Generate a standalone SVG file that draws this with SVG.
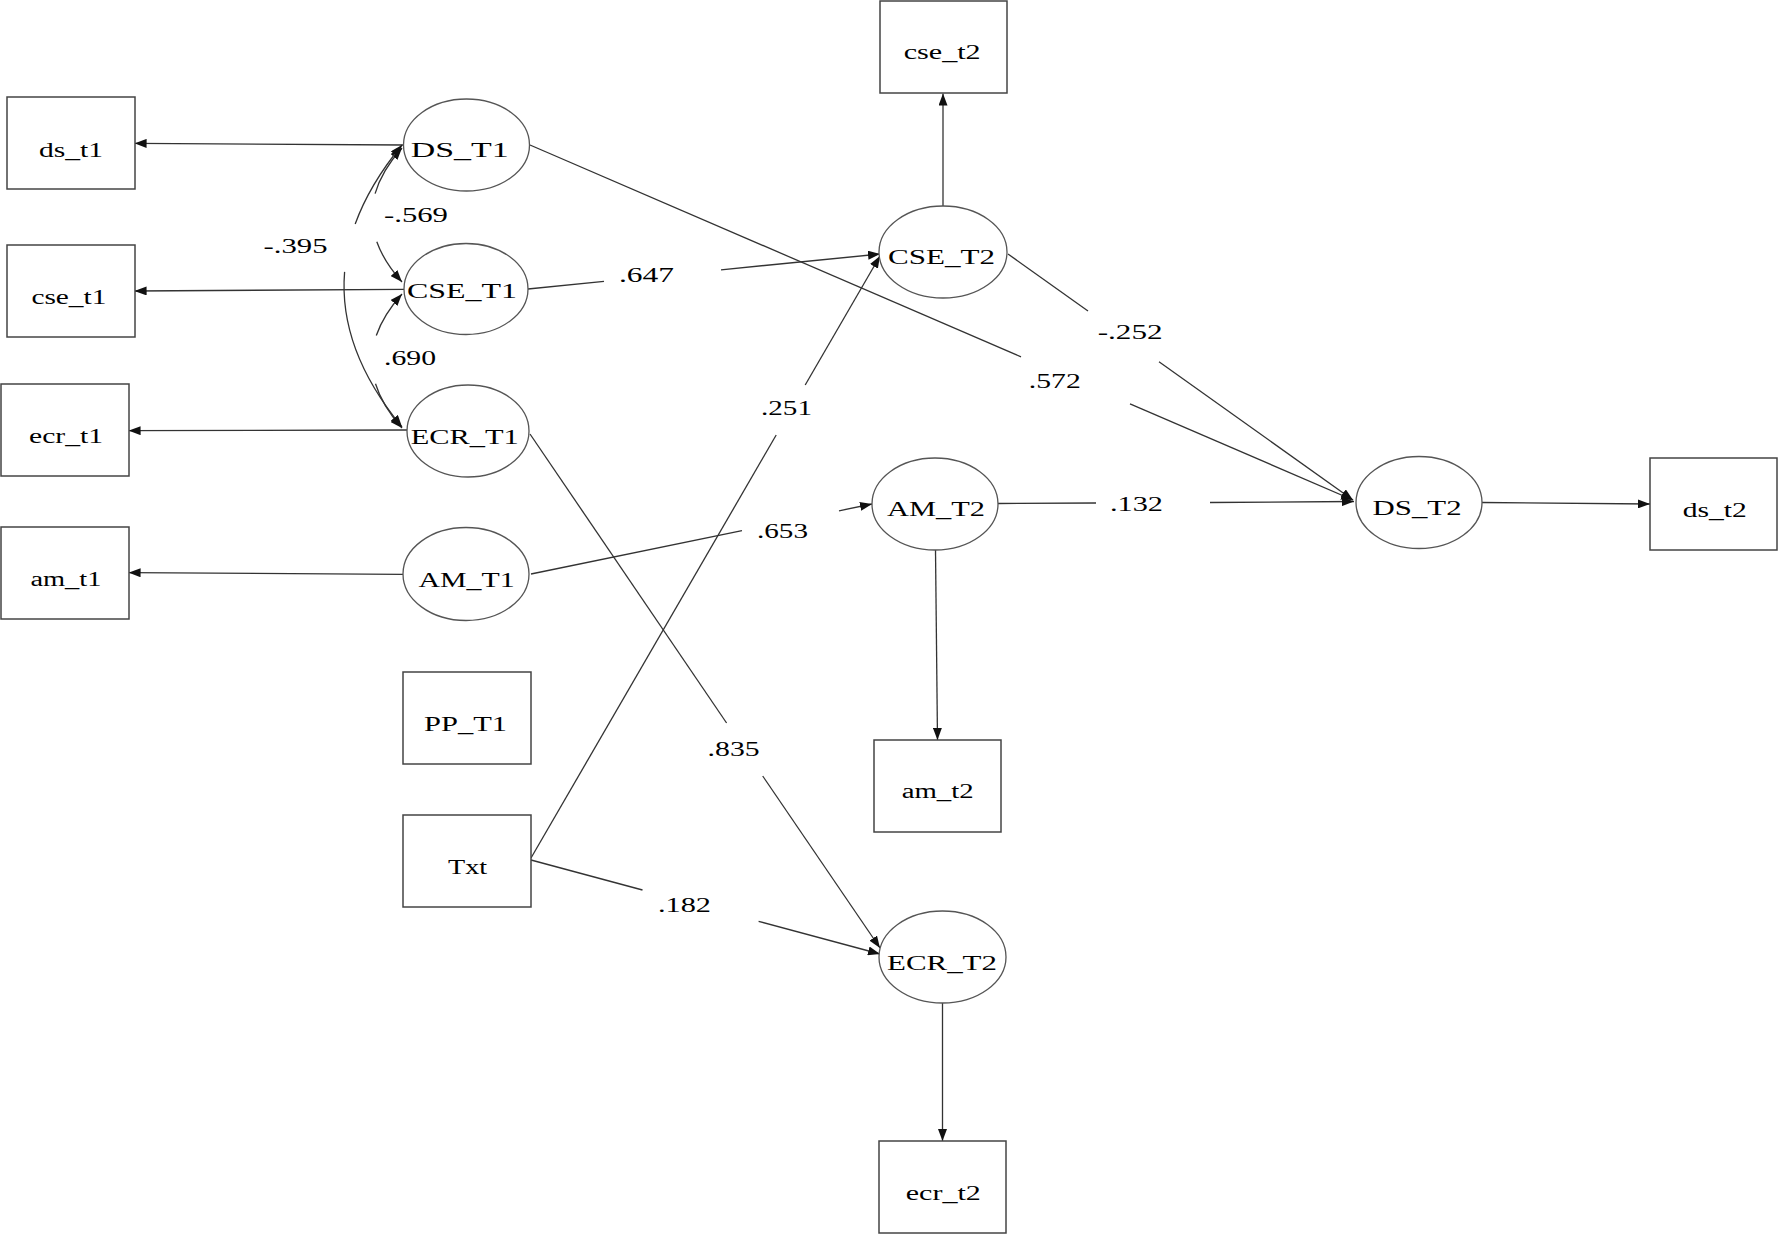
<svg xmlns="http://www.w3.org/2000/svg" width="1779" height="1234" viewBox="0 0 1779 1234">
<defs>
<marker id="ah" viewBox="0 0 12 9" refX="12" refY="4.5" markerWidth="12" markerHeight="9" markerUnits="userSpaceOnUse" orient="auto-start-reverse">
<path d="M0,0 L12,4.5 L0,9 z" fill="#111"/>
</marker>
</defs>
<style>
.bg{fill:#fff}
.box{fill:#fff;stroke:#444;stroke-width:1.5}
.lat{fill:#fff;stroke:#555;stroke-width:1.3}
.t{font-family:"Liberation Serif","Times New Roman",serif;font-size:20px;fill:#000}
.e{fill:none;stroke:#333;stroke-width:1.3}
.ea{fill:none;stroke:#333;stroke-width:1.3;marker-end:url(#ah)}
.es{fill:none;stroke:#333;stroke-width:1.3;marker-start:url(#ah)}
</style>
<rect class="bg" x="0" y="0" width="1779" height="1234"/>
<g id="connectors">
<!-- loadings to indicators -->
<line class="ea" x1="403.5" y1="145" x2="134.6" y2="143.3"/>
<line class="ea" x1="404.5" y1="289.3" x2="134.6" y2="291"/>
<line class="ea" x1="407" y1="430" x2="128.6" y2="430.7"/>
<line class="ea" x1="403" y1="574.3" x2="128.6" y2="572.7"/>
<line class="ea" x1="943" y1="206" x2="943" y2="93.6"/>
<line class="ea" x1="935.5" y1="550" x2="937.5" y2="740"/>
<line class="ea" x1="942.5" y1="1003" x2="942.5" y2="1141"/>
<line class="ea" x1="1482" y1="502.5" x2="1650" y2="504"/>
<!-- covariances -->
<path class="es" d="M402,148 Q381.6,170.8 375.1,193.6"/>
<path class="ea" d="M376.8,241.8 Q384,261.9 402,282"/>
<path class="es" d="M402,294 Q383.4,314.8 376.3,335.5"/>
<path class="ea" d="M375.5,383.8 Q382.2,405.9 402,428"/>
<path class="es" d="M402,145 Q369.5,184.5 355.2,224"/>
<path class="ea" d="M344.6,271.9 Q338.2,349.5 402,427"/>
<!-- structural paths -->
<line class="e" x1="528" y1="289" x2="604" y2="281.4"/>
<line class="ea" x1="721" y1="269.8" x2="880" y2="254"/>
<line class="e" x1="531" y1="858" x2="776.2" y2="435"/>
<line class="ea" x1="805.2" y1="385" x2="880" y2="256"/>
<line class="e" x1="530" y1="145" x2="1021" y2="356.8"/>
<line class="ea" x1="1130" y1="403.8" x2="1353" y2="500"/>
<line class="e" x1="1008" y1="254" x2="1088" y2="311"/>
<line class="ea" x1="1159" y1="361.7" x2="1353" y2="500"/>
<line class="e" x1="531" y1="574" x2="742" y2="530.7"/>
<line class="ea" x1="839" y1="510.8" x2="872" y2="504"/>
<line class="e" x1="998" y1="503.5" x2="1096" y2="503"/>
<line class="ea" x1="1210" y1="502.5" x2="1354" y2="501.5"/>
<line class="e" x1="530" y1="434" x2="726.6" y2="723"/>
<line class="ea" x1="762.7" y1="776" x2="880" y2="948"/>
<line class="e" x1="531" y1="860" x2="642.5" y2="890"/>
<line class="ea" x1="758.6" y1="921.3" x2="880" y2="954"/>
<!-- labels -->
<text class="t" x="384" y="221.7" textLength="64" lengthAdjust="spacingAndGlyphs">-.569</text>
<text class="t" x="263.6" y="253.3" textLength="64" lengthAdjust="spacingAndGlyphs">-.395</text>
<text class="t" x="384" y="365" textLength="52" lengthAdjust="spacingAndGlyphs">.690</text>
<text class="t" x="619" y="282" textLength="55" lengthAdjust="spacingAndGlyphs">.647</text>
<text class="t" x="761" y="415" textLength="51" lengthAdjust="spacingAndGlyphs">.251</text>
<text class="t" x="1097.7" y="339.3" textLength="65" lengthAdjust="spacingAndGlyphs">-.252</text>
<text class="t" x="1028.8" y="387.5" textLength="52" lengthAdjust="spacingAndGlyphs">.572</text>
<text class="t" x="757" y="537.5" textLength="51" lengthAdjust="spacingAndGlyphs">.653</text>
<text class="t" x="1110" y="510.7" textLength="53" lengthAdjust="spacingAndGlyphs">.132</text>
<text class="t" x="707.6" y="755.5" textLength="52" lengthAdjust="spacingAndGlyphs">.835</text>
<text class="t" x="658" y="912" textLength="53" lengthAdjust="spacingAndGlyphs">.182</text>
</g>
<g id="ds_t1"><rect class="box" x="7" y="97" width="128" height="92"/><text class="t" x="39" y="156.5" textLength="64" lengthAdjust="spacingAndGlyphs">ds_t1</text></g>
<g id="cse_t1"><rect class="box" x="7" y="245" width="128" height="92"/><text class="t" x="31.4" y="304" textLength="75" lengthAdjust="spacingAndGlyphs">cse_t1</text></g>
<g id="ecr_t1"><rect class="box" x="1" y="384" width="128" height="92"/><text class="t" x="29" y="443" textLength="74" lengthAdjust="spacingAndGlyphs">ecr_t1</text></g>
<g id="am_t1"><rect class="box" x="1" y="527" width="128" height="92"/><text class="t" x="30.4" y="586" textLength="71" lengthAdjust="spacingAndGlyphs">am_t1</text></g>
<g id="DS_T1"><ellipse class="lat" cx="466.5" cy="145" rx="63" ry="46"/><text class="t" x="410.7" y="156.7" textLength="98" lengthAdjust="spacingAndGlyphs">DS_T1</text></g>
<g id="CSE_T1"><ellipse class="lat" cx="466" cy="289" rx="62" ry="45.5"/><text class="t" x="407" y="298.3" textLength="110" lengthAdjust="spacingAndGlyphs">CSE_T1</text></g>
<g id="ECR_T1"><ellipse class="lat" cx="468" cy="431" rx="61" ry="46"/><text class="t" x="410.7" y="444.3" textLength="108" lengthAdjust="spacingAndGlyphs">ECR_T1</text></g>
<g id="AM_T1"><ellipse class="lat" cx="466" cy="574" rx="63" ry="46.5"/><text class="t" x="418.6" y="587.3" textLength="96" lengthAdjust="spacingAndGlyphs">AM_T1</text></g>
<g id="PP_T1"><rect class="box" x="403" y="672" width="128" height="92"/><text class="t" x="424" y="730.7" textLength="83" lengthAdjust="spacingAndGlyphs">PP_T1</text></g>
<g id="Txt"><rect class="box" x="403" y="815" width="128" height="92"/><text class="t" x="448" y="874.3" textLength="39" lengthAdjust="spacingAndGlyphs">Txt</text></g>
<g id="cse_t2"><rect class="box" x="880" y="1" width="127" height="92"/><text class="t" x="903.7" y="59" textLength="77" lengthAdjust="spacingAndGlyphs">cse_t2</text></g>
<g id="CSE_T2"><ellipse class="lat" cx="943" cy="252" rx="64" ry="46"/><text class="t" x="888" y="264.3" textLength="107" lengthAdjust="spacingAndGlyphs">CSE_T2</text></g>
<g id="AM_T2"><ellipse class="lat" cx="935" cy="504" rx="63" ry="46"/><text class="t" x="887" y="516" textLength="98" lengthAdjust="spacingAndGlyphs">AM_T2</text></g>
<g id="DS_T2"><ellipse class="lat" cx="1419" cy="502.5" rx="63" ry="46"/><text class="t" x="1372.6" y="515" textLength="89" lengthAdjust="spacingAndGlyphs">DS_T2</text></g>
<g id="ds_t2"><rect class="box" x="1650" y="458" width="127" height="92"/><text class="t" x="1682.7" y="516.7" textLength="64" lengthAdjust="spacingAndGlyphs">ds_t2</text></g>
<g id="am_t2"><rect class="box" x="874" y="740" width="127" height="92"/><text class="t" x="901.7" y="798.3" textLength="72" lengthAdjust="spacingAndGlyphs">am_t2</text></g>
<g id="ECR_T2"><ellipse class="lat" cx="942.5" cy="957" rx="63.5" ry="46"/><text class="t" x="887" y="969.5" textLength="110" lengthAdjust="spacingAndGlyphs">ECR_T2</text></g>
<g id="ecr_t2"><rect class="box" x="879" y="1141" width="127" height="92"/><text class="t" x="905.8" y="1200" textLength="75" lengthAdjust="spacingAndGlyphs">ecr_t2</text></g>
</svg>
